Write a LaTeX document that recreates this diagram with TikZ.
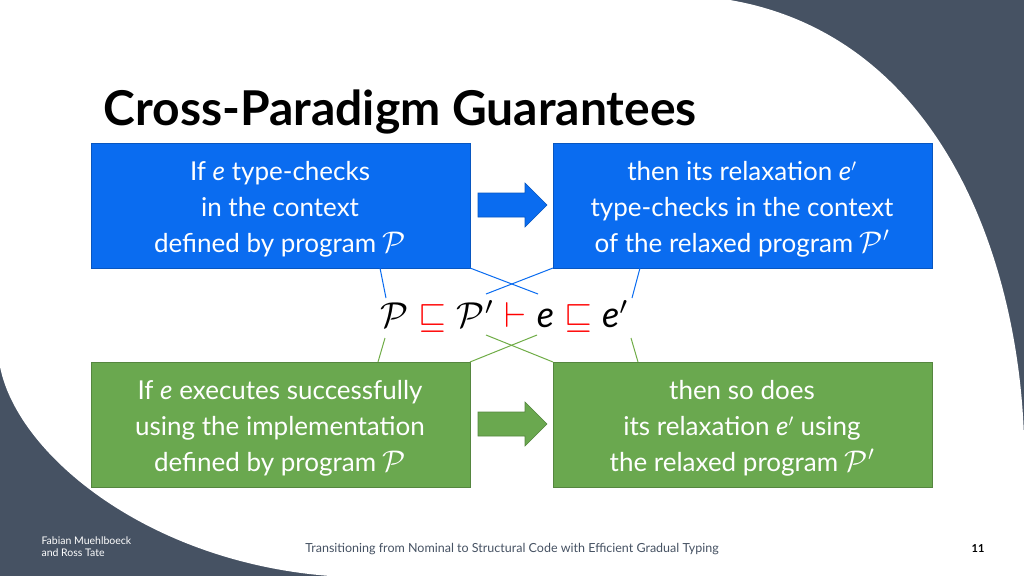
\documentclass[tikz,border=0pt]{standalone}
\usepackage{amsmath,amssymb}
\usepackage{fontspec}
\usepackage{graphicx}
\setmainfont{Lato}
\definecolor{slate}{HTML}{465263}
\definecolor{bbox}{HTML}{0A6CF0}
\definecolor{gbox}{HTML}{6AA84F}
\definecolor{gline}{HTML}{70AD47}
\begin{document}
\begin{tikzpicture}[x=1pt,y=-1pt,
  boxb/.style={fill=bbox,draw=bbox!80!black,line width=0.6pt},
  boxg/.style={fill=gbox,draw=gbox!80!black,line width=0.6pt},
  txt/.style={text=white,align=center,font=\fontsize{26}{36}\selectfont},
  bl/.style={draw=bbox,line width=1pt},
  gl/.style={draw=gline,line width=1pt}]
\useasboundingbox (0,0) rectangle (1024,576);
\fill[slate] (0,0) rectangle (1024,576);
\fill[white] (0,0) -- (730,0) .. controls (960,40) and (1030,300) .. (1024,480) -- (1024,576) -- (330,576) .. controls (120,560) and (-20,420) .. (0,330) -- cycle;
\fill[white] (1024,480) -- (1024,576) -- (900,576) -- cycle;
\node[anchor=west,font=\fontsize{48}{50}\selectfont\bfseries] (title) at (100,112) {Cross-Paradigm Guarantees};
\path[boxb] (91,143) rectangle (470,268); \coordinate (b1) at (280,209);
\path[boxb] (553,143) rectangle (932,268); \coordinate (b2) at (742,209);
\path[boxg] (91,362) rectangle (470,487); \coordinate (g1) at (280,428);
\path[boxg] (553,362) rectangle (932,487); \coordinate (g2) at (742,428);
\node[txt] (t1) at (b1) {If \textit{e} type-checks\\in the context\\defined by program \scalebox{1.2}{$\mathcal{P}$}};
\node[txt] (t2) at (b2) {then its relaxation \textit{e}$'$\\type-checks in the context\\of the relaxed program \scalebox{1.2}{$\mathcal{P}'$}};
\node[txt] (t3) at (g1) {If \textit{e} executes successfully\\using the implementation\\defined by program \scalebox{1.2}{$\mathcal{P}$}};
\node[txt] (t4) at (g2) {then so does\\its relaxation \textit{e}$'$ using\\the relaxed program \scalebox{1.2}{$\mathcal{P}'$}};
\foreach \n/\y/\c in {a1/205/bbox,a2/424/gbox}{
  \fill[\c,draw=\c!80!black,line width=0.6pt] (478,\y-12) -- (525,\y-12) -- (525,\y-22) -- (547,\y) -- (525,\y+22) -- (525,\y+12) -- (478,\y+12) -- cycle;
}
\node (f) at (505,316) {\scalebox{3.6}{$\mathcal{P}\mathrel{\textcolor{red}{\sqsubseteq}}\mathcal{P}'\mathrel{\textcolor{red}{\vdash}} \mathit{e}\mathrel{\textcolor{red}{\sqsubseteq}} \mathit{e}'$}};
\coordinate (c1) at (380,268); \coordinate (c1e) at (386,298);
\coordinate (c2) at (470,268); \coordinate (c2e) at (538,294);
\coordinate (c3) at (553,268); \coordinate (c3e) at (486,294);
\coordinate (c4) at (640,268); \coordinate (c4e) at (632,298);
\draw[bl] (c1)--(c1e); \draw[bl] (c2)--(c2e); \draw[bl] (c3)--(c3e); \draw[bl] (c4)--(c4e);
\coordinate (d1) at (378,362); \coordinate (d1e) at (385,338);
\coordinate (d2) at (470,362); \coordinate (d2e) at (537,335);
\coordinate (d3) at (553,362); \coordinate (d3e) at (486,335);
\coordinate (d4) at (638,362); \coordinate (d4e) at (631,338);
\draw[gl] (d1)--(d1e); \draw[gl] (d2)--(d2e); \draw[gl] (d3)--(d3e); \draw[gl] (d4)--(d4e);
\node[anchor=west,align=left,text=white,font=\fontsize{10.5}{12}\selectfont] (auth) at (38,547) {Fabian Muehlboeck\\and Ross Tate};
\node[text=slate,font=\fontsize{12.5}{14}\selectfont] (foot) at (512,549) {Transitioning from Nominal to Structural Code with Efficient Gradual Typing};
\node[font=\fontsize{11}{12}\selectfont\bfseries] (num) at (978,549) {11};
\end{tikzpicture}
\end{document}
